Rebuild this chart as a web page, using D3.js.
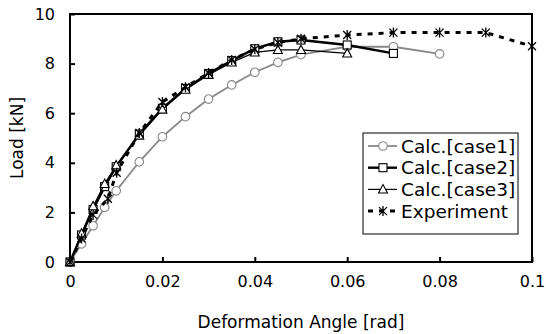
<!DOCTYPE html>
<html>
<head>
<meta charset="utf-8">
<script src="https://cdn.jsdelivr.net/npm/d3@7"></script>
<style>
  html, body { margin: 0; padding: 0; background: #fff; }
  svg { display: block; }
  text { font-family: "DejaVu Sans", sans-serif; fill: #000; }
</style>
</head>
<body>
<svg id="chart" width="546" height="334"></svg>
<script>
// Deformation angle [rad] for each computed step
const anglesCalc = [0, 0.0025, 0.005, 0.0075, 0.01, 0.015, 0.02, 0.025, 0.03, 0.035, 0.04, 0.045, 0.05, 0.06, 0.07, 0.08];

// Load [kN]
const case1 = [0, 0.73, 1.46, 2.2, 2.87, 4.04, 5.05, 5.86, 6.57, 7.14, 7.65, 8.05, 8.36, 8.68, 8.68, 8.39];
const case2 = [0, 1.09, 2.12, 3.04, 3.84, 5.16, 6.2, 7.0, 7.6, 8.12, 8.6, 8.88, 8.95, 8.75, 8.41];
const case3 = [0, 1.15, 2.25, 3.15, 3.9, 5.1, 6.15, 6.95, 7.55, 8.05, 8.45, 8.55, 8.55, 8.41];

// Experiment
const anglesExp = [0, 0.0025, 0.005, 0.0082, 0.0101, 0.015, 0.02, 0.025, 0.03, 0.035, 0.04, 0.045, 0.05, 0.06, 0.07, 0.08, 0.09, 0.1];
const experiment = [0, 0.95, 1.9, 2.55, 3.6, 5.2, 6.45, 7.05, 7.62, 8.15, 8.58, 8.85, 9.0, 9.15, 9.25, 9.25, 9.25, 8.7];

const xTicks = [0, 0.02, 0.04, 0.06, 0.08, 0.1];
const xTickLabels = ["0", "0.02", "0.04", "0.06", "0.08", "0.1"];
const yTicks = [0, 2, 4, 6, 8, 10];

const seriesNames = ["Calc.[case1]", "Calc.[case2]", "Calc.[case3]", "Experiment"];

const svg = d3.select("#chart");
const x = d3.scaleLinear().domain([0, 0.1]).range([70, 532]);
const y = d3.scaleLinear().domain([0, 10]).range([262, 14]);

// Axes: ticks point inward
const xAxis = d3.axisBottom(x).tickValues(xTicks).tickSize(-5).tickPadding(14)
  .tickFormat((d, i) => xTickLabels[i]);
const yAxis = d3.axisLeft(y).tickValues(yTicks).tickSize(-5).tickPadding(15);

const gx = svg.append("g").attr("transform", `translate(0,${y(0)})`).call(xAxis);
const gy = svg.append("g").attr("transform", `translate(${x(0)},0)`).call(yAxis);
[gx, gy].forEach(g => {
  g.select(".domain").remove();
  g.selectAll(".tick line").attr("stroke", "#000").attr("stroke-width", 2);
  g.selectAll(".tick text").style("font-size", "16px").style("font-family", "'DejaVu Sans', sans-serif");
});
gx.selectAll(".tick text").attr("dy", "0.71em");

// Frame
svg.append("rect")
  .attr("x", x(0)).attr("y", y(10))
  .attr("width", x(0.1) - x(0)).attr("height", y(0) - y(10))
  .attr("fill", "none").attr("stroke", "#000").attr("stroke-width", 2);

// Axis titles
svg.append("text")
  .attr("x", (x(0) + x(0.1)) / 2).attr("y", 328)
  .attr("text-anchor", "middle").style("font-size", "17px")
  .text("Deformation Angle [rad]");
svg.append("text")
  .attr("transform", `translate(23,${(y(0) + y(10)) / 2}) rotate(-90)`)
  .attr("text-anchor", "middle").style("font-size", "17px")
  .text("Load [kN]");

// Marker shapes
const markers = {
  circle: g => g.append("circle").attr("r", 4.3),
  square: g => g.append("rect").attr("x", -4).attr("y", -4).attr("width", 8).attr("height", 8),
  triangle: g => g.append("path").attr("d", "M0,-4.8L4.5,3.6L-4.5,3.6Z"),
  star: g => g.append("path").attr("d", "M0,-5V5M-4,-4L4,4M-4,4L4,-4")
};

const series = [
  { name: seriesNames[0], xs: anglesCalc, ys: case1, color: "#888", width: 1.8, dash: null, marker: "circle" },
  { name: seriesNames[1], xs: anglesCalc, ys: case2, color: "#000", width: 2.4, dash: null, marker: "square" },
  { name: seriesNames[2], xs: anglesCalc, ys: case3, color: "#000", width: 1.2, dash: null, marker: "triangle" },
  { name: seriesNames[3], xs: anglesExp, ys: experiment, color: "#000", width: 3, dash: "5,6", marker: "star" }
];

const line = d3.line().x(d => x(d[0])).y(d => y(d[1]));

series.forEach(s => {
  const pts = s.ys.map((v, i) => [s.xs[i], v]);
  svg.append("path")
    .datum(pts)
    .attr("d", line)
    .attr("fill", "none")
    .attr("stroke", s.color)
    .attr("stroke-width", s.width)
    .attr("stroke-dasharray", s.dash);
  pts.forEach(p => {
    const g = svg.append("g").attr("transform", `translate(${x(p[0])},${y(p[1])})`);
    markers[s.marker](g)
      .attr("fill", s.marker === "star" ? "none" : "#fff")
      .attr("stroke", s.color)
      .attr("stroke-width", s.marker === "star" ? 1.3 : 1.1);
  });
});

// Legend
const legend = svg.append("g");
legend.append("rect")
  .attr("x", 363).attr("y", 133).attr("width", 155).attr("height", 101)
  .attr("fill", "#fff").attr("stroke", "#000").attr("stroke-width", 1);
series.forEach((s, i) => {
  const cy = 146 + i * 21.7;
  legend.append("line")
    .attr("x1", 368).attr("x2", 397).attr("y1", cy).attr("y2", cy)
    .attr("stroke", s.color).attr("stroke-width", s.width)
    .attr("stroke-dasharray", s.dash);
  const g = legend.append("g").attr("transform", `translate(383,${cy})`);
  markers[s.marker](g)
    .attr("fill", s.marker === "star" ? "none" : "#fff")
    .attr("stroke", s.color)
    .attr("stroke-width", s.marker === "star" ? 1.3 : 1.1);
  legend.append("text")
    .attr("x", 401).attr("y", cy).attr("dy", "0.36em")
    .style("font-size", "18.5px")
    .text(s.name);
});
</script>
</body>
</html>
